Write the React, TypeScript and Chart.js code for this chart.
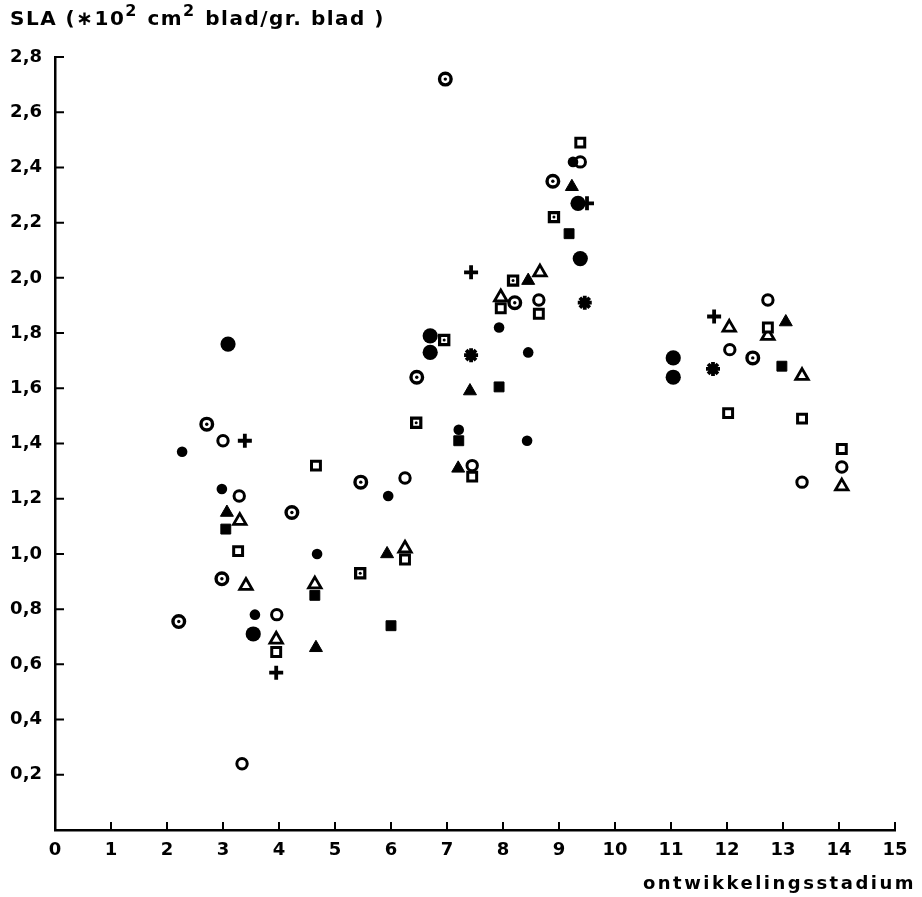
import React, { useEffect, useRef } from 'react';
import { Chart, registerables } from 'chart.js';

Chart.register(...registerables);

// ---- data (x = ontwikkelingsstadium, y = SLA) ----
const xTickValues = [0, 1, 2, 3, 4, 5, 6, 7, 8, 9, 10, 11, 12, 13, 14, 15];
const yTickValues = [0, 0.2, 0.4, 0.6, 0.8, 1.0, 1.2, 1.4, 1.6, 1.8, 2.0, 2.2, 2.4, 2.6, 2.8];

const smallDotPts = [[2.27, 1.37], [2.98, 1.235], [3.57, 0.78], [4.68, 1.0], [5.95, 1.21], [7.21, 1.45], [7.93, 1.82], [8.43, 1.41], [8.45, 1.73], [9.25, 2.42]];
const bigDotPts = [[3.09, 1.76], [3.54, 0.71], [6.7, 1.79], [6.7, 1.73], [9.34, 2.27], [9.38, 2.07], [11.04, 1.71], [11.04, 1.64]];
const openCirclePts = [[3.0, 1.41], [3.29, 1.21], [3.34, 0.24], [3.96, 0.78], [6.25, 1.275], [7.45, 1.32], [8.64, 1.92], [9.38, 2.42], [12.05, 1.74], [12.73, 1.92], [13.34, 1.26], [14.05, 1.315]];
const dotCirclePts = [[2.21, 0.755], [2.71, 1.47], [2.98, 0.91], [4.23, 1.15], [5.46, 1.26], [6.46, 1.64], [6.97, 2.72], [8.21, 1.91], [8.89, 2.35], [12.46, 1.71]];
const openSquarePts = [[3.27, 1.01], [3.95, 0.645], [4.66, 1.32], [6.25, 0.98], [7.45, 1.28], [7.96, 1.89], [8.64, 1.87], [9.38, 2.49], [12.02, 1.51], [12.73, 1.82], [13.34, 1.49], [14.05, 1.38]];
const dotSquarePts = [[5.45, 0.93], [6.45, 1.475], [6.95, 1.775], [8.18, 1.99], [8.91, 2.22]];
const filledSquarePts = [[3.05, 1.09], [4.64, 0.85], [6.0, 0.74], [7.21, 1.41], [7.93, 1.605], [9.18, 2.16], [12.98, 1.68]];
const filledTrianglePts = [[3.07, 1.15], [4.66, 0.66], [5.93, 1.0], [7.2, 1.31], [7.41, 1.59], [8.45, 1.99], [9.23, 2.33], [13.05, 1.84]];
const openTrianglePts = [[3.3, 1.12], [3.41, 0.885], [3.95, 0.69], [4.64, 0.89], [6.25, 1.02], [7.96, 1.93], [8.66, 2.02], [12.04, 1.82], [12.73, 1.79], [13.34, 1.645], [14.05, 1.245]];
const plusPts = [[3.39, 1.41], [3.95, 0.57], [7.43, 2.02], [9.5, 2.27], [11.77, 1.86]];
const starPts = [[7.43, 1.72], [9.46, 1.91], [11.75, 1.67]];

const yTitleParts = [
  { t: 'SLA (', sup: false },
  { t: '\u2217', sup: false },
  { t: '10', sup: false },
  { t: '2', sup: true },
  { t: ' cm', sup: false },
  { t: '2', sup: true },
  { t: ' blad/gr. blad )', sup: false },
];
const xTitle = 'ontwikkelingsstadium';

const FONT = '"DejaVu Sans", sans-serif';
const toXY = (arr: number[][]) => arr.map(([x, y]) => ({ x, y }));

const decorPlugin = {
  id: 'decor',
  afterDraw(chart: any) {
    const ctx = chart.ctx;
    const xs = chart.scales.x;
    const ys = chart.scales.y;
    ctx.save();
    ctx.strokeStyle = '#000';
    ctx.lineWidth = 2;
    ctx.beginPath();
    xs.ticks.forEach((t: any) => {
      if (t.value === 0) return;
      const px = xs.getPixelForValue(t.value);
      ctx.moveTo(px, ys.bottom);
      ctx.lineTo(px, ys.bottom - 8);
    });
    ys.ticks.forEach((t: any) => {
      if (t.value === 0) return;
      const py = ys.getPixelForValue(t.value);
      ctx.moveTo(xs.left, py);
      ctx.lineTo(xs.left + 9, py);
    });
    ctx.stroke();

    // y-axis title (top-left)
    ctx.fillStyle = '#000';
    ctx.textBaseline = 'alphabetic';
    ctx.textAlign = 'left';
    (ctx as any).letterSpacing = '1.5px';
    let cx = 10;
    const base = 25;
    yTitleParts.forEach((p) => {
      ctx.font = p.sup ? `bold 16px ${FONT}` : `bold 20px ${FONT}`;
      ctx.fillText(p.t, cx, p.sup ? base - 9 : base);
      cx += ctx.measureText(p.t).width + (p.sup ? 1 : 0);
    });

    // x-axis title (bottom-right)
    ctx.font = `bold 18px ${FONT}`;
    (ctx as any).letterSpacing = '2.5px';
    ctx.textAlign = 'right';
    ctx.textBaseline = 'middle';
    ctx.fillText(xTitle, 916, 884);
    ctx.restore();
  },
};

export default function App() {
  const ref = useRef<HTMLCanvasElement>(null);

  useEffect(() => {
    if (!ref.current) return;
    const base = { showLine: false, order: 1 };
    const chart = new Chart(ref.current, {
      type: 'scatter',
      data: {
        datasets: [
          // overlay dots for circle-with-dot and square-with-dot (drawn on top)
          { ...base, order: 0, data: toXY(dotCirclePts), pointStyle: 'circle', pointRadius: 1.7, pointBackgroundColor: '#000', pointBorderWidth: 0 },
          { ...base, order: 0, data: toXY(dotSquarePts), pointStyle: 'circle', pointRadius: 1.5, pointBackgroundColor: '#000', pointBorderWidth: 0 },
          { ...base, data: toXY(smallDotPts), pointStyle: 'circle', pointRadius: 5.3, pointBackgroundColor: '#000', pointBorderColor: '#000', pointBorderWidth: 0 },
          { ...base, data: toXY(bigDotPts), pointStyle: 'circle', pointRadius: 7.6, pointBackgroundColor: '#000', pointBorderColor: '#000', pointBorderWidth: 0 },
          { ...base, data: toXY(openCirclePts), pointStyle: 'circle', pointRadius: 5.2, pointBackgroundColor: '#fff', pointBorderColor: '#000', pointBorderWidth: 3 },
          { ...base, data: toXY(dotCirclePts), pointStyle: 'circle', pointRadius: 5.8, pointBackgroundColor: '#fff', pointBorderColor: '#000', pointBorderWidth: 3.4 },
          { ...base, data: toXY(openSquarePts), pointStyle: 'rect', pointRadius: 6.3, pointBackgroundColor: '#fff', pointBorderColor: '#000', pointBorderWidth: 3 },
          { ...base, data: toXY(dotSquarePts), pointStyle: 'rect', pointRadius: 6.5, pointBackgroundColor: '#fff', pointBorderColor: '#000', pointBorderWidth: 3.2 },
          { ...base, data: toXY(filledSquarePts), pointStyle: 'rect', pointRadius: 7, pointBackgroundColor: '#000', pointBorderColor: '#000', pointBorderWidth: 1 },
          { ...base, data: toXY(filledTrianglePts), pointStyle: 'triangle', pointRadius: 7.5, pointBackgroundColor: '#000', pointBorderColor: '#000', pointBorderWidth: 1 },
          { ...base, data: toXY(openTrianglePts), pointStyle: 'triangle', pointRadius: 7.2, pointBackgroundColor: '#fff', pointBorderColor: '#000', pointBorderWidth: 2.8 },
          { ...base, data: toXY(plusPts), pointStyle: 'cross', pointRadius: 7, pointBorderColor: '#000', pointBorderWidth: 3.8 },
          { ...base, data: toXY(starPts), pointStyle: 'star', pointRadius: 7, pointBorderColor: '#000', pointBorderWidth: 3.8 },
        ],
      },
      options: {
        responsive: false,
        animation: false,
        devicePixelRatio: 1,
        events: [],
        layout: { padding: { left: 0, right: 27, top: 57, bottom: 0 } },
        plugins: {
          legend: { display: false },
          tooltip: { enabled: false },
          title: { display: false },
        },
        scales: {
          x: {
            type: 'linear',
            min: 0,
            max: 15,
            afterBuildTicks: (s: any) => { s.ticks = xTickValues.map((v) => ({ value: v })); },
            afterFit: (s: any) => { s.height = 67; },
            grid: { display: false, drawTicks: false },
            border: { display: true, color: '#000', width: 2.5 },
            ticks: {
              color: '#000',
              padding: 10,
              maxRotation: 0,
              autoSkip: false,
              font: { family: FONT, size: 18, weight: 'bold' },
              callback: (v: any) => String(v),
            },
          },
          y: {
            type: 'linear',
            min: 0,
            max: 2.8,
            afterBuildTicks: (s: any) => { s.ticks = yTickValues.map((v) => ({ value: v })); },
            afterFit: (s: any) => { s.width = 55; },
            grid: { display: false, drawTicks: false },
            border: { display: true, color: '#000', width: 2.5 },
            ticks: {
              color: '#000',
              padding: 13,
              autoSkip: false,
              font: { family: FONT, size: 18, weight: 'bold' },
              callback: (v: any) => (Math.abs(v) < 1e-9 ? '' : Number(v).toFixed(1).replace('.', ',')),
            },
          },
        },
      },
      plugins: [decorPlugin],
    } as any);
    return () => chart.destroy();
  }, []);

  return (
    <div style={{ position: 'absolute', left: 0, top: 0, width: 922, height: 897, background: '#fff' }}>
      <canvas ref={ref} width={922} height={897} style={{ width: 922, height: 897, display: 'block' }} />
    </div>
  );
}
